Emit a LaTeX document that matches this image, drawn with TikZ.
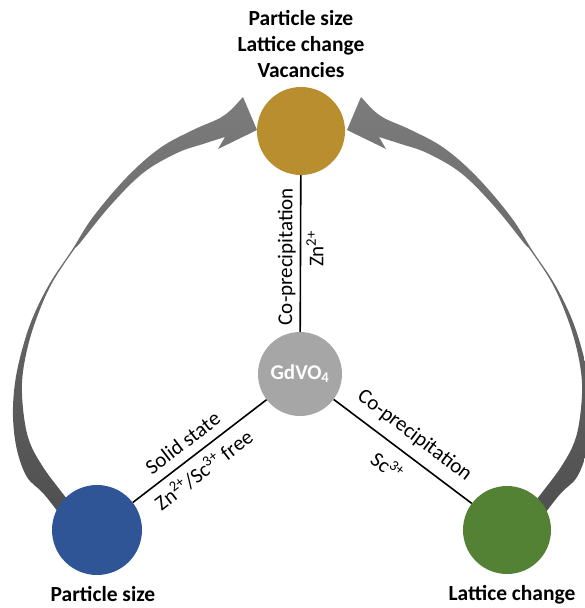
\documentclass[tikz,border=0pt]{standalone}
\usepackage{fontspec}
\setmainfont{Carlito}
\usetikzlibrary{positioning}
\definecolor{vacgold}{RGB}{185,142,47}
\definecolor{psblue}{RGB}{47,85,151}
\definecolor{lcgreen}{RGB}{84,130,53}
\definecolor{hostgray}{RGB}{166,166,166}
\definecolor{arrdark}{RGB}{80,80,80}
\definecolor{arrlight}{RGB}{205,205,205}
\tikzset{phase/.style={circle,minimum size=88pt,inner sep=0pt},
  tag/.style={font=\fontsize{21.5}{26}\selectfont\bfseries,align=center,inner sep=2pt},
  route/.style={font=\fontsize{21}{24}\selectfont,sloped,inner sep=4pt},
  link/.style={line width=1.6pt},
  swoop/.style={top color=arrdark!75!white,middle color=arrlight,bottom color=arrdark}}

\begin{document}
\begin{tikzpicture}[x=1pt,y=-1pt]
\useasboundingbox (0,0) rectangle (585,608);
% the two curved arrows, right one mirrored
\foreach \s/\o in {1/0,-1/604}{
\begin{scope}[xshift=\o pt,xscale=\s]
\shade[swoop] plot[smooth,tension=0.6] coordinates {(58,512) (43,493) (27,477) (17,450) (13,417) (15,383) (22,350) (33,317) (50,283) (72,250) (93,217) (127,177) (160,148) (193,130) (220,118) (233,108)}
  -- (243,97) -- (257,130) -- (218,149) -- (225,137)
  -- plot[smooth,tension=0.6] coordinates {(225,137) (203,144) (177,153) (143,173) (110,206) (80,243) (73,251) (52,283) (37,317) (27,350) (22,383) (24,417) (30,443) (43,467) (60,490) (72,505)} -- cycle;
\end{scope}}

\node[phase,fill=vacgold] (vac) at (301,131) {};
\node[phase,fill=hostgray,minimum size=84pt,text=white,font=\fontsize{21}{24}\selectfont\bfseries] (host) at (300,374) {GdVO\textsubscript{4}};
\node[phase,fill=psblue,minimum size=90pt] (ps) at (97,530) {};
\node[phase,fill=lcgreen] (lc) at (507,530) {};

\node[tag,above=7pt of vac] (vaclbl) {Particle size\\Lattice change\\Vacancies};
\node[tag,below=9pt of ps,xshift=6pt] (pslbl) {Particle size};
\node[tag,below=9pt of lc,xshift=5pt] (lclbl) {Lattice change};

\draw[link] (host) -- node[route,pos=0.48,above]{Co-precipitation} node[route,pos=0.53,below=1pt]{Zn\textsuperscript{2+}} (vac);
\draw[link] (ps) -- node[route,pos=0.45,above=5pt]{Solid state} node[route,pos=0.45,below=3pt]{Zn\textsuperscript{2+}/Sc\textsuperscript{3+} free} (host);
\draw[link] (host) -- node[route,pos=0.5,above=6pt]{Co-precipitation} node[route,pos=0.48,below=7pt]{Sc\textsuperscript{3+}} (lc);
\end{tikzpicture}
\end{document}
